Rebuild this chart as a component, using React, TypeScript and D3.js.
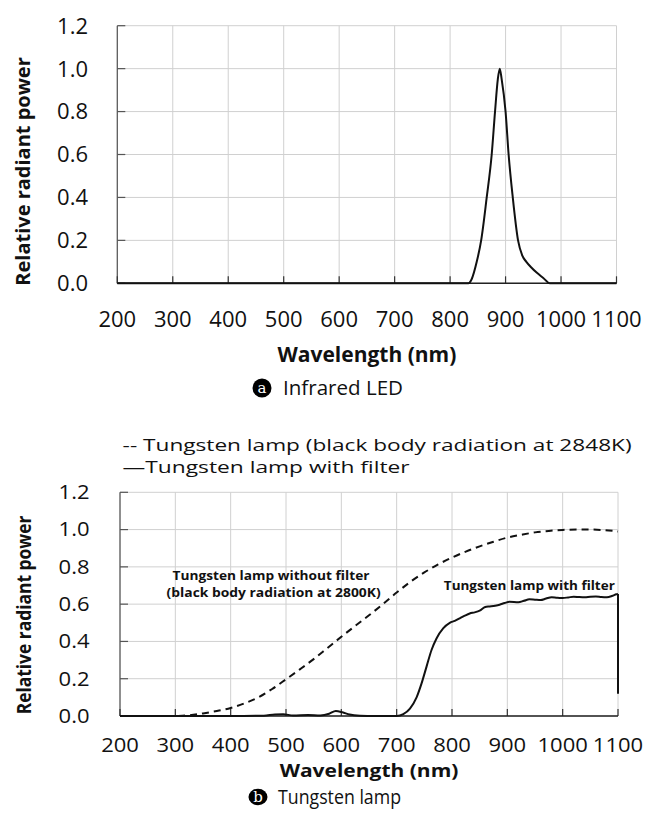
import React from "react";
import * as d3 from "d3";

// ---- data ----
const xTicks = [200, 300, 400, 500, 600, 700, 800, 900, 1000, 1100];
const yTicks = [0, 0.2, 0.4, 0.6, 0.8, 1.0, 1.2];

// (a) infrared LED
const ledWl = [200, 833, 839, 848, 856, 866, 875, 881, 886, 889.5, 893, 900, 905.5, 913, 922.5, 930, 937.5, 946, 956, 968, 980, 1100];
const ledPower = [0, 0, 0.02, 0.1, 0.2, 0.4, 0.6, 0.8, 0.95, 1.0, 0.95, 0.8, 0.6, 0.4, 0.2, 0.13, 0.1, 0.075, 0.05, 0.025, 0, 0];

// (b) tungsten lamp, no filter (dashed)
const lampWl = [305, 325, 350, 375, 400, 425, 450, 475, 500, 525, 550, 575, 600, 625, 650, 675, 700, 725, 750, 775, 800, 825, 850, 875, 900, 925, 950, 975, 1000, 1025, 1050, 1075, 1100];
const lampPower = [0, 0.004, 0.014, 0.027, 0.043, 0.068, 0.1, 0.145, 0.197, 0.25, 0.305, 0.365, 0.425, 0.483, 0.54, 0.6, 0.662, 0.72, 0.77, 0.813, 0.85, 0.882, 0.91, 0.935, 0.957, 0.972, 0.985, 0.993, 0.998, 1.0, 1.0, 0.997, 0.99];

// (b) tungsten lamp with filter (solid)
const filterWl = [200, 300, 400, 460, 480, 495, 513, 540, 562, 578, 590, 602, 615, 634, 660, 700, 712, 724, 736, 745, 754, 763, 772, 784, 796, 805, 814, 823, 832, 841, 850, 860, 868, 878, 886, 895, 904, 920, 930, 940, 950, 960, 970, 980, 990, 1000, 1010, 1020, 1030, 1040, 1050, 1060, 1070, 1080, 1090, 1097, 1100];
const filterPower = [0, 0, 0, 0.002, 0.008, 0.009, 0.003, 0.006, 0.003, 0.012, 0.027, 0.02, 0.008, 0.002, 0, 0, 0.01, 0.04, 0.1, 0.175, 0.265, 0.354, 0.416, 0.47, 0.5, 0.51, 0.524, 0.538, 0.55, 0.556, 0.565, 0.585, 0.588, 0.592, 0.597, 0.606, 0.613, 0.61, 0.618, 0.626, 0.624, 0.622, 0.63, 0.637, 0.634, 0.633, 0.636, 0.64, 0.638, 0.637, 0.64, 0.641, 0.638, 0.637, 0.645, 0.653, 0.655];
const filterDrop = 0.12; // last sample at 1100 nm

const FONT = "'Open Sans', sans-serif";
const fmt = d3.format(".1f");

type Pt = [number, number];
const zip = (xs: number[], ys: number[]): Pt[] => xs.map((x, i) => [x, ys[i]]);

// text that can be squashed vertically (the lower panel is squeezed in the original)
function T({ x, y, sy = 1, rotate = 0, children, ...rest }: any) {
  const tr = `translate(${x},${y}) scale(1,${sy})${rotate ? ` rotate(${rotate})` : ""}`;
  return (
    <text transform={tr} fontFamily={FONT} fill="#111" {...rest}>
      {children}
    </text>
  );
}

function Frame({ x, y, sy, tickLabelY, titleY, yLabelX, yTitle }: any) {
  const [l, r] = x.range();
  const [b, t] = y.range();
  return (
    <g>
      {/* grid */}
      {yTicks.map((v) => (
        <line key={"gy" + v} x1={l} x2={r} y1={y(v)} y2={y(v)} stroke="#d0d0d0" strokeWidth={1} />
      ))}
      {xTicks.map((v) => (
        <line key={"gx" + v} x1={x(v)} x2={x(v)} y1={t} y2={b} stroke="#d0d0d0" strokeWidth={1} />
      ))}
      {/* axes */}
      <line x1={l} x2={l} y1={t} y2={b} stroke="#555" strokeWidth={1.2} />
      {yTicks.map((v) => (
        <line key={"ty" + v} x1={l} x2={l + 8} y1={y(v)} y2={y(v)} stroke="#555" strokeWidth={1.2} />
      ))}
      {xTicks.map((v) => (
        <line key={"tx" + v} x1={x(v)} x2={x(v)} y1={b} y2={b - 7} stroke="#333" strokeWidth={1.2} />
      ))}
      <line x1={l} x2={r} y1={b} y2={b} stroke="#222" strokeWidth={1.5} />
      {/* tick labels */}
      {yTicks.map((v) => (
        <T key={"ly" + v} x={yLabelX} y={y(v)} sy={sy} dy="0.36em" textAnchor="end" fontSize={22}>
          {fmt(v)}
        </T>
      ))}
      {xTicks.map((v) => (
        <T key={"lx" + v} x={x(v)} y={tickLabelY} sy={sy} dy="0.36em" textAnchor="middle" fontSize={22}>
          {v}
        </T>
      ))}
      <T x={(l + r) / 2} y={titleY} sy={sy} dy="0.36em" textAnchor="middle" fontSize={21} fontWeight="bold">
        Wavelength (nm)
      </T>
      <T x={yTitle[0]} y={yTitle[1]} sy={sy} rotate={-90} dy="0.36em" textAnchor="middle" fontSize={20} fontWeight="bold">
        Relative radiant power
      </T>
    </g>
  );
}

function Caption({ cx, cy, ry, letter, textX, text, len }: any) {
  return (
    <g>
      <ellipse cx={cx} cy={cy} rx={9.5} ry={ry} fill="#000" />
      <text x={cx} y={cy} dy="0.32em" textAnchor="middle" fill="#fff" fontSize={15} fontFamily="'DejaVu Serif', serif">
        {letter}
      </text>
      <text x={textX} y={cy} dy="0.36em" fontSize={20} fontFamily={FONT} fill="#111" textLength={len} lengthAdjust="spacingAndGlyphs">
        {text}
      </text>
    </g>
  );
}

export default function App() {
  // upper panel
  const xA = d3.scaleLinear().domain([200, 1100]).range([117.3, 616.5]);
  const yA = d3.scaleLinear().domain([0, 1.2]).range([283.3, 25.7]);
  const lineA = d3.line<Pt>().x((d) => xA(d[0])).y((d) => yA(d[1])).curve(d3.curveMonotoneX);

  // lower panel
  const sy = 0.87;
  const xB = d3.scaleLinear().domain([200, 1100]).range([120, 618]);
  const yB = d3.scaleLinear().domain([0, 1.2]).range([716, 492.3]);
  const lineB = d3.line<Pt>().x((d) => xB(d[0])).y((d) => yB(d[1])).curve(d3.curveMonotoneX);
  const filterPts = zip(filterWl, filterPower);
  const last = filterPts[filterPts.length - 1];
  const dropLine = d3.line<Pt>().x((d) => xB(d[0])).y((d) => yB(d[1]))([last, [last[0], filterDrop]]);

  return (
    <svg width={645} height={820} style={{ position: "absolute", left: 0, top: 0, background: "#fff" }}>
      <rect width={645} height={820} fill="#fff" />

      {/* (a) */}
      <Frame x={xA} y={yA} sy={1} tickLabelY={319} titleY={354} yLabelX={88} yTitle={[22.6, 171.5]} />
      <path d={lineA(zip(ledWl, ledPower)) || ""} fill="none" stroke="#111" strokeWidth={2} />
      <Caption cx={262} cy={388} ry={9.5} letter="a" textX={283} text="Infrared  LED" len={120} />

      {/* (b) legend */}
      <T x={122.6} y={445.5} sy={sy} dy="0.36em" fontSize={18} textLength={509} lengthAdjust="spacingAndGlyphs">
        -- Tungsten lamp (black body radiation at 2848K)
      </T>
      <T x={122.6} y={467.5} sy={sy} dy="0.36em" fontSize={18} textLength={287} lengthAdjust="spacingAndGlyphs">
        —Tungsten lamp with filter
      </T>

      {/* (b) */}
      <Frame x={xB} y={yB} sy={sy} tickLabelY={745} titleY={770} yLabelX={89.5} yTitle={[23.5, 615]} />
      <path d={lineB(zip(lampWl, lampPower)) || ""} fill="none" stroke="#111" strokeWidth={2} strokeDasharray="7,5" />
      <path d={lineB(filterPts) || ""} fill="none" stroke="#111" strokeWidth={2} />
      <path d={dropLine || ""} fill="none" stroke="#111" strokeWidth={2} />

      <T x={271} y={576} sy={sy} dy="0.36em" textAnchor="middle" fontSize={14} fontWeight="bold" textLength={197} lengthAdjust="spacingAndGlyphs">
        Tungsten lamp without filter
      </T>
      <T x={273.6} y={593} sy={sy} dy="0.36em" textAnchor="middle" fontSize={14} fontWeight="bold" textLength={214} lengthAdjust="spacingAndGlyphs">
        (black body radiation at 2800K)
      </T>
      <T x={529.3} y={585.5} sy={sy} dy="0.36em" textAnchor="middle" fontSize={14} fontWeight="bold" textLength={171} lengthAdjust="spacingAndGlyphs">
        Tungsten lamp with filter
      </T>

      <Caption cx={258} cy={797} ry={8.3} letter="b" textX={278} text="Tungsten  lamp" len={123} />
    </svg>
  );
}
